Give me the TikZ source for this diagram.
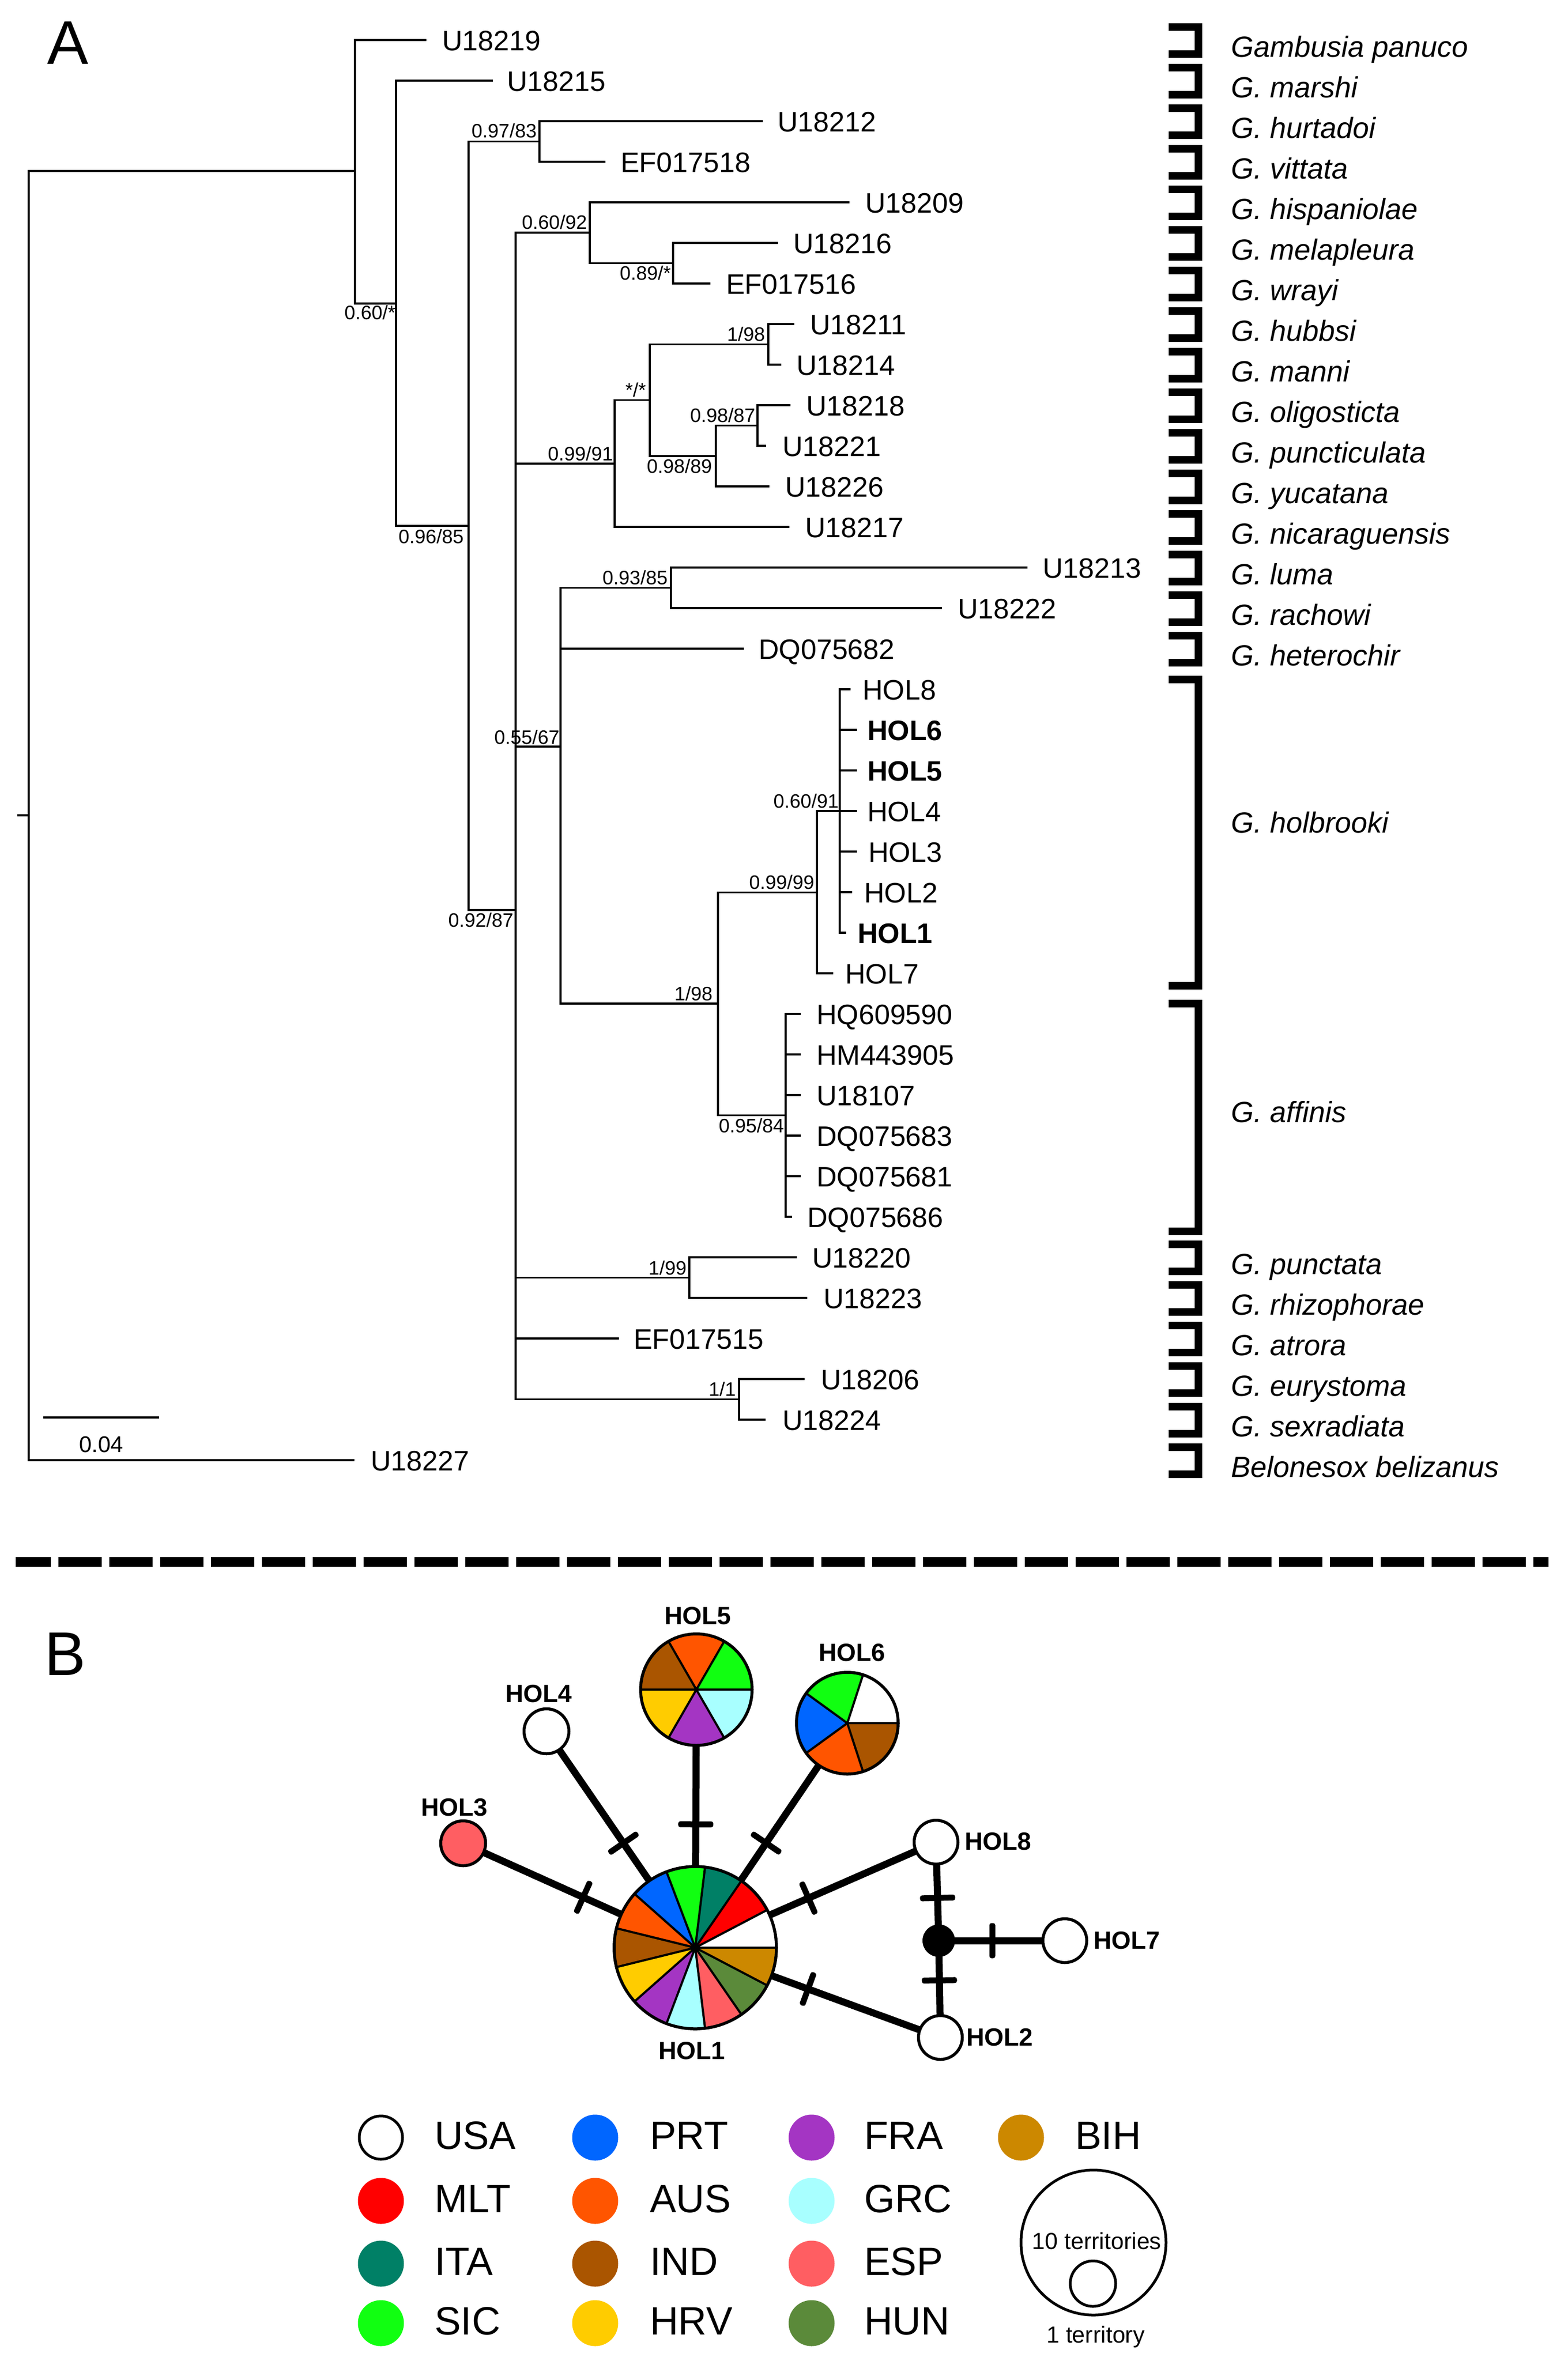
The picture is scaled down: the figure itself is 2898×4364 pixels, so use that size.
\documentclass[tikz,border=0pt]{standalone}
\usepackage{fontspec}
\setmainfont{Liberation Sans}
\pgfdeclarelayer{bg}
\pgfsetlayers{bg,main}
\definecolor{cMLT}{HTML}{FF0000}
\definecolor{cITA}{HTML}{008066}
\definecolor{cSIC}{HTML}{11FF11}
\definecolor{cPRT}{HTML}{0066FF}
\definecolor{cAUS}{HTML}{FF5500}
\definecolor{cIND}{HTML}{AA5500}
\definecolor{cHRV}{HTML}{FFCC00}
\definecolor{cFRA}{HTML}{A435C3}
\definecolor{cGRC}{HTML}{A8FFFF}
\definecolor{cESP}{HTML}{FF5E62}
\definecolor{cHUN}{HTML}{5B8A3A}
\definecolor{cBIH}{HTML}{CC8800}
\tikzset{
 br/.style={line width=3.5pt, line join=miter},
 tiplab/.style={anchor=base west, inner sep=0pt, font=\fontsize{52}{60}\selectfont},
 sup/.style={inner sep=0pt, font=\fontsize{36}{42}\selectfont},
 splab/.style={anchor=base west, inner sep=0pt, font=\fontsize{54}{62}\selectfont\itshape},
 bracket/.style={line width=14pt, line join=miter},
 netedge/.style={line width=13pt},
 tickmark/.style={rectangle, fill=black, inner sep=0pt, minimum width=11pt, minimum height=65pt, rounded corners=4pt},
 hl/.style={font=\fontsize{46}{54}\selectfont\bfseries, inner sep=0pt},
 pienode/.style={circle, inner sep=0pt, outer sep=0pt},
 pieline/.style={line width=4pt},
 pieout/.style={line width=5.5pt},
 legc/.style={circle, inner sep=0pt, minimum size=85pt},
 legt/.style={anchor=base west, inner sep=0pt, font=\fontsize{73}{84}\selectfont},
 panel/.style={anchor=base west, inner sep=0pt, font=\fontsize{114}{130}\selectfont},
}
\newcommand\tipnode[6]{%
  \coordinate (#1) at (#3,-#4);
  \draw[br] (#2) |- (#1);
  \node[tiplab] (#1l) at (#5,{-#4-19}) {#6};
}
\newcommand\mypie[4]{%
  \foreach \cc [count=\k] in {#4}{
    \fill[\cc] (#1.center) -- ++({(\k-1)*360/#3}:#2) arc[start angle={(\k-1)*360/#3}, end angle={\k*360/#3}, radius=#2] -- cycle;
  }
  \foreach \k in {1,...,#3}{
    \draw[pieline] (#1.center) -- ++({(\k-1)*360/#3}:#2);
  }
  \draw[pieout] (#1.center) circle[radius=#2];
}
\begin{document}
\begin{tikzpicture}[x=1pt,y=1pt]
\useasboundingbox (0,0) rectangle (2898,-4364);
\begin{pgfonlayer}{bg}
\fill[white] (0,0) rectangle (2898,-4364);
\end{pgfonlayer}

% ---------------- Panel A ----------------
\node[panel] (pA) at (87,-118) {A};

% internal nodes
\coordinate (R0) at (53,-1507);
\coordinate (A) at (656,-316);
\coordinate (B) at (732,-561);
\coordinate (C) at (866,-972);
\coordinate (D) at (997,-261.5);
\coordinate (E) at (953,-1682);
\coordinate (F) at (1090,-430);
\coordinate (I) at (1244,-486.5);
\coordinate (G) at (1136,-857);
\coordinate (J) at (1201,-739.6);
\coordinate (K) at (1420,-636.5);
\coordinate (L) at (1323,-842.75);
\coordinate (M) at (1400,-786.5);
\coordinate (H) at (1036,-1380);
\coordinate (P) at (1240,-1086.5);
\coordinate (Q) at (1327,-1855);
\coordinate (Rn) at (1510,-1649.6);
\coordinate (T) at (1552,-1499);
\coordinate (S) at (1452,-2061.5);
\coordinate (N) at (1274,-2361.5);
\coordinate (O) at (1366,-2586.5);
\coordinate (rt) at (32,-1507);

\draw[br] (rt) -- (R0);
\draw[br] (R0) |- (A);
\draw[br] (A) |- (B);
\draw[br] (B) |- (C);
\draw[br] (C) |- (D);
\draw[br] (C) |- (E);
\draw[br] (E) |- (F);
\draw[br] (E) |- (G);
\draw[br] (E) |- (H);
\draw[br] (E) |- (N);
\draw[br] (E) |- (O);
\draw[br] (F) |- (I);
\draw[br] (G) |- (J);
\draw[br] (J) |- (K);
\draw[br] (J) |- (L);
\draw[br] (L) |- (M);
\draw[br] (H) |- (P);
\draw[br] (H) |- (Q);
\draw[br] (Q) |- (Rn);
\draw[br] (Q) |- (S);
\draw[br] (Rn) |- (T);

% tips
\tipnode{e0}{A}{788}{74}{817}{U18219}
\tipnode{e1}{B}{911}{149}{937}{U18215}
\tipnode{e2}{D}{1410}{224}{1437}{U18212}
\tipnode{e3}{D}{1119}{299}{1147}{EF017518}
\tipnode{e4}{F}{1570}{374}{1599}{U18209}
\tipnode{e5}{I}{1438}{449}{1466}{U18216}
\tipnode{e6}{I}{1313}{524}{1342}{EF017516}
\tipnode{e7}{K}{1468}{599}{1497}{U18211}
\tipnode{e8}{K}{1444}{674}{1472}{U18214}
\tipnode{e9}{M}{1461}{749}{1490}{U18218}
\tipnode{e10}{M}{1416}{824}{1446}{U18221}
\tipnode{e11}{L}{1422}{899}{1451}{U18226}
\tipnode{e12}{G}{1459}{974}{1488}{U18217}
\tipnode{e13}{P}{1899}{1049}{1927}{U18213}
\tipnode{e14}{P}{1741}{1124}{1770}{U18222}
\tipnode{e15}{H}{1375}{1199}{1402}{DQ075682}
\tipnode{e16}{T}{1572}{1274}{1594}{HOL8}
\tipnode{e17}{T}{1584}{1349}{1603}{{\bfseries HOL6}}
\tipnode{e18}{T}{1584}{1424}{1603}{{\bfseries HOL5}}
\tipnode{e19}{T}{1584}{1499}{1603}{HOL4}
\tipnode{e20}{T}{1584}{1574}{1605}{HOL3}
\tipnode{e21}{T}{1575}{1649}{1597}{HOL2}
\tipnode{e22}{T}{1564}{1724}{1585}{{\bfseries HOL1}}
\tipnode{e23}{Rn}{1540}{1799}{1562}{HOL7}
\tipnode{e24}{S}{1480}{1874}{1509}{HQ609590}
\tipnode{e25}{S}{1480}{1949}{1509}{HM443905}
\tipnode{e26}{S}{1480}{2024}{1509}{U18107}
\tipnode{e27}{S}{1480}{2099}{1509}{DQ075683}
\tipnode{e28}{S}{1480}{2174}{1509}{DQ075681}
\tipnode{e29}{S}{1464}{2249}{1492}{DQ075686}
\tipnode{e30}{N}{1473}{2324}{1501}{U18220}
\tipnode{e31}{N}{1492}{2399}{1522}{U18223}
\tipnode{e32}{E}{1144}{2474}{1171}{EF017515}
\tipnode{e33}{O}{1487}{2549}{1517}{U18206}
\tipnode{e34}{O}{1415}{2624}{1446}{U18224}
\tipnode{e35}{R0}{655}{2699}{685}{U18227}

% support values
\node[sup, anchor=north east] (s1) at (731,-564) {0.60/*};
\node[sup, anchor=north east] (s2) at (857,-978) {0.96/85};
\node[sup, anchor=south east] (s3) at (992,-255) {0.97/83};
\node[sup, anchor=north east] (s4) at (949,-1687) {0.92/87};
\node[sup, anchor=south east] (s5) at (1085,-424) {0.60/92};
\node[sup, anchor=north east] (s6) at (1240,-491) {0.89/*};
\node[sup, anchor=south east] (s7) at (1133,-852) {0.99/91};
\node[sup, anchor=south east] (s8) at (1194,-734) {*/*};
\node[sup, anchor=south east] (s9) at (1414,-631) {1/98};
\node[sup, anchor=north east] (s10) at (1316,-848) {0.98/89};
\node[sup, anchor=south east] (s11) at (1396,-781) {0.98/87};
\node[sup, anchor=south east] (s12) at (1234,-1081) {0.93/85};
\node[sup, anchor=south east] (s13) at (1034,-1376) {0.55/67};
\node[sup, anchor=south east] (s14) at (1317,-1850) {1/98};
\node[sup, anchor=south east] (s15) at (1505,-1644) {0.99/99};
\node[sup, anchor=south east] (s16) at (1550,-1494) {0.60/91};
\node[sup, anchor=north east] (s17) at (1449,-2067) {0.95/84};
\node[sup, anchor=south east] (s18) at (1269,-2357) {1/99};
\node[sup, anchor=south east] (s19) at (1360,-2581) {1/1};

% scale bar
\coordinate (sb1) at (80,-2620);
\coordinate (sb2) at (294,-2620);
\draw[br] (sb1) -- (sb2);
\node[inner sep=0pt, font=\fontsize{42}{48}\selectfont] (sbl) at (187,-2670) {0.04};

% brackets
\foreach \i in {0,...,15} {
  \draw[bracket] (2160,{-50-75*\i}) -| (2215,{-100-75*\i}) -- (2160,{-100-75*\i});
}
\foreach \i in {30,...,35} {
  \draw[bracket] (2160,{-50-75*\i}) -| (2215,{-100-75*\i}) -- (2160,{-100-75*\i});
}
\draw[bracket] (2160,-1256) -| (2215,-1822) -- (2160,-1822);
\draw[bracket] (2160,-1855) -| (2215,-2276) -- (2160,-2276);

% species names
\node[splab] (sp0) at (2275,-105) {Gambusia panuco};
\node[splab] (sp1) at (2275,-180) {G. marshi};
\node[splab] (sp2) at (2275,-255) {G. hurtadoi};
\node[splab] (sp3) at (2275,-330) {G. vittata};
\node[splab] (sp4) at (2275,-405) {G. hispaniolae};
\node[splab] (sp5) at (2275,-480) {G. melapleura};
\node[splab] (sp6) at (2275,-555) {G. wrayi};
\node[splab] (sp7) at (2275,-630) {G. hubbsi};
\node[splab] (sp8) at (2275,-705) {G. manni};
\node[splab] (sp9) at (2275,-780) {G. oligosticta};
\node[splab] (sp10) at (2275,-855) {G. puncticulata};
\node[splab] (sp11) at (2275,-930) {G. yucatana};
\node[splab] (sp12) at (2275,-1005) {G. nicaraguensis};
\node[splab] (sp13) at (2275,-1080) {G. luma};
\node[splab] (sp14) at (2275,-1155) {G. rachowi};
\node[splab] (sp15) at (2275,-1230) {G. heterochir};
\node[splab] (sp16) at (2275,-1539) {G. holbrooki};
\node[splab] (sp17) at (2275,-2074) {G. affinis};
\node[splab] (sp18) at (2275,-2355) {G. punctata};
\node[splab] (sp19) at (2275,-2430) {G. rhizophorae};
\node[splab] (sp20) at (2275,-2505) {G. atrora};
\node[splab] (sp21) at (2275,-2580) {G. eurystoma};
\node[splab] (sp22) at (2275,-2655) {G. sexradiata};
\node[splab] (sp23) at (2275,-2730) {Belonesox belizanus};

% separator
\coordinate (d1) at (29,-2887);
\coordinate (d2) at (2862,-2887);
\draw[line width=18pt, dash pattern=on 80pt off 14pt, dash phase=15pt] (d1) -- (d2);

% ---------------- Panel B ----------------
\node[panel] (pB) at (82,-3096) {B};

\node[pienode, minimum size=300pt] (h1) at (1285,-3600) {};
\node[pienode, minimum size=206pt] (h5) at (1287,-3123) {};
\node[pienode, minimum size=188pt] (h6) at (1566,-3185) {};
\node[pienode, draw, pieout, fill=white, minimum size=83pt] (h4) at (1010,-3200) {};
\node[pienode, draw, pieout, fill=cESP, minimum size=83pt] (h3) at (856,-3407) {};
\node[pienode, draw, pieout, fill=white, minimum size=81pt] (h8) at (1730,-3405) {};
\node[pienode, draw, pieout, fill=white, minimum size=81pt] (h2) at (1738,-3766) {};
\node[pienode, fill=black, minimum size=60pt] (mv) at (1735,-3587) {};
\node[pienode, draw, pieout, fill=white, minimum size=81pt] (h7) at (1968,-3587) {};

\begin{pgfonlayer}{bg}
\draw[netedge] (h1.center) -- node[tickmark, pos=0.483, sloped]{} (h3.center);
\draw[netedge] (h1.center) -- node[tickmark, pos=0.483, sloped]{} (h4.center);
\draw[netedge] (h1.center) -- node[tickmark, pos=0.478, sloped]{} (h5.center);
\draw[netedge] (h1.center) -- node[tickmark, pos=0.466, sloped]{} (h6.center);
\draw[netedge] (h1.center) -- node[tickmark, pos=0.47, sloped]{} (h8.center);
\draw[netedge] (h1.center) -- node[tickmark, pos=0.46, sloped]{} (h2.center);
\draw[netedge] (h8.center) -- node[tickmark, pos=0.566, sloped]{} (mv.center);
\draw[netedge] (mv.center) -- node[tickmark, pos=0.41, sloped]{} (h2.center);
\draw[netedge] (mv.center) -- node[tickmark, pos=0.425, sloped]{} (h7.center);
\end{pgfonlayer}

\mypie{h1}{150}{13}{white,cMLT,cITA,cSIC,cPRT,cAUS,cIND,cHRV,cFRA,cGRC,cESP,cHUN,cBIH}
\mypie{h5}{103}{6}{cSIC,cAUS,cIND,cHRV,cFRA,cGRC}
\mypie{h6}{94}{5}{white,cSIC,cPRT,cAUS,cIND}

\node[hl] (l5) at (1290,-2987) {HOL5};
\node[hl] (l6) at (1575,-3055) {HOL6};
\node[hl] (l4) at (996,-3131) {HOL4};
\node[hl] (l3) at (840,-3341) {HOL3};
\node[hl] (l1) at (1279,-3791) {HOL1};
\node[hl] (l8) at (1845,-3404) {HOL8};
\node[hl] (l2) at (1848,-3766) {HOL2};
\node[hl] (l7) at (2083,-3587) {HOL7};

% legend
\node[legc, draw, line width=5pt, minimum size=80pt, fill=white] (gUSA) at (704,-3951) {};
\node[legc, fill=cMLT] (gMLT) at (704,-4068) {};
\node[legc, fill=cITA] (gITA) at (704,-4184) {};
\node[legc, fill=cSIC] (gSIC) at (704,-4294) {};
\node[legc, fill=cPRT] (gPRT) at (1100,-3951) {};
\node[legc, fill=cAUS] (gAUS) at (1100,-4068) {};
\node[legc, fill=cIND] (gIND) at (1100,-4184) {};
\node[legc, fill=cHRV] (gHRV) at (1100,-4294) {};
\node[legc, fill=cFRA] (gFRA) at (1500,-3951) {};
\node[legc, fill=cGRC] (gGRC) at (1500,-4068) {};
\node[legc, fill=cESP] (gESP) at (1500,-4184) {};
\node[legc, fill=cHUN] (gHUN) at (1500,-4294) {};
\node[legc, fill=cBIH] (gBIH) at (1887,-3951) {};

\node[legt] (tUSA) at (803,-3972) {USA};
\node[legt] (tMLT) at (803,-4089) {MLT};
\node[legt] (tITA) at (803,-4205) {ITA};
\node[legt] (tSIC) at (803,-4315) {SIC};
\node[legt] (tPRT) at (1201,-3972) {PRT};
\node[legt] (tAUS) at (1201,-4089) {AUS};
\node[legt] (tIND) at (1201,-4205) {IND};
\node[legt] (tHRV) at (1201,-4315) {HRV};
\node[legt] (tFRA) at (1597,-3972) {FRA};
\node[legt] (tGRC) at (1597,-4089) {GRC};
\node[legt] (tESP) at (1597,-4205) {ESP};
\node[legt] (tHUN) at (1597,-4315) {HUN};
\node[legt] (tBIH) at (1987,-3972) {BIH};

\node[pienode, draw, line width=5pt, minimum size=268pt] (sz10) at (2021,-4145) {};
\node[pienode, draw, line width=5pt, minimum size=84pt] (sz1) at (2020,-4221) {};
\node[anchor=base, inner sep=0pt, font=\fontsize{43}{50}\selectfont] (tz10) at (2027,-4157) {10 territories};
\node[anchor=base, inner sep=0pt, font=\fontsize{43}{50}\selectfont] (tz1) at (2025,-4330) {1 territory};
\end{tikzpicture}
\end{document}
